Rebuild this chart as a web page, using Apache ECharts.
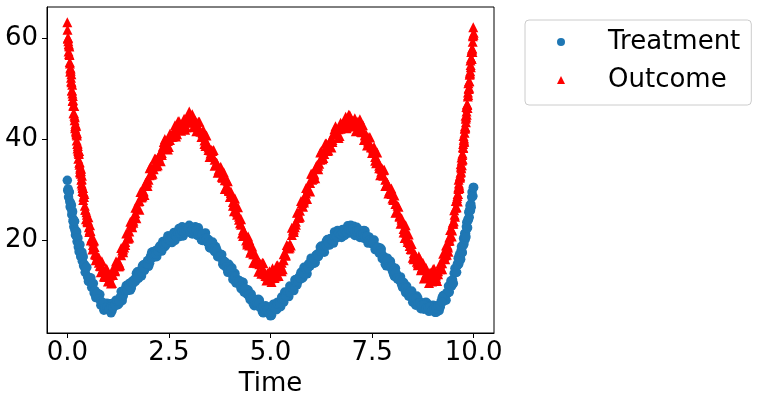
<!DOCTYPE html>
<html>
<head>
<meta charset="utf-8">
<script src="https://cdn.jsdelivr.net/npm/echarts@6.0.0/dist/echarts.min.js"></script>
<style>
html,body{margin:0;padding:0;background:#fff;}
#chart{width:758px;height:403px;}
</style>
</head>
<body>
<div id="chart"></div>
<script>
// ---- data ----
const seriesNames = ['Treatment', 'Outcome'];
const xTickValues = [0, 2.5, 5, 7.5, 10];
const yTickValues = [20, 40, 60];

// samples, first pass
const time = [
  0, 0.01, 0.02, 0.03, 0.04, 0.05, 0.06, 0.07, 0.08, 0.09, 0.1, 0.11, 0.12, 0.13, 0.14, 0.15, 0.16, 0.17, 0.18, 0.19,
  0.2, 0.21, 0.22, 0.23, 0.24, 0.25, 0.26, 0.27, 0.28, 0.29, 0.3, 0.31, 0.32, 0.33, 0.34, 0.35, 0.36, 0.37, 0.38, 0.39, 0.4,
  0.42, 0.44, 0.46, 0.48, 0.5, 0.52, 0.54, 0.56, 0.58, 0.6, 0.62, 0.64, 0.66, 0.68, 0.7,
  0.75, 0.8, 0.85, 0.9, 0.95,
  1, 1.05, 1.1, 1.15, 1.2, 1.25, 1.3, 1.35, 1.4, 1.45, 1.5, 1.55, 1.6, 1.65, 1.7, 1.75, 1.8, 1.85, 1.9, 1.95,
  2, 2.05, 2.1, 2.15, 2.2, 2.25, 2.3, 2.35, 2.4, 2.45, 2.5, 2.55, 2.6, 2.65, 2.7, 2.75, 2.8, 2.85, 2.9, 2.95,
  3, 3.05, 3.1, 3.15, 3.2, 3.25, 3.3, 3.35, 3.4, 3.45, 3.5, 3.55, 3.6, 3.65, 3.7, 3.75, 3.8, 3.85, 3.9, 3.95,
  4, 4.05, 4.1, 4.15, 4.2, 4.25, 4.3, 4.35, 4.4, 4.45, 4.5, 4.55, 4.6, 4.65, 4.7, 4.75, 4.8, 4.85, 4.9, 4.95,
  5, 5.05, 5.1, 5.15, 5.2, 5.25, 5.3, 5.35, 5.4, 5.45, 5.5, 5.55, 5.6, 5.65, 5.7, 5.75, 5.8, 5.85, 5.9, 5.95,
  6, 6.05, 6.1, 6.15, 6.2, 6.25, 6.3, 6.35, 6.4, 6.45, 6.5, 6.55, 6.6, 6.65, 6.7, 6.75, 6.8, 6.85, 6.9, 6.95,
  7, 7.05, 7.1, 7.15, 7.2, 7.25, 7.3, 7.35, 7.4, 7.45, 7.5, 7.55, 7.6, 7.65, 7.7, 7.75, 7.8, 7.85, 7.9, 7.95,
  8, 8.05, 8.1, 8.15, 8.2, 8.25, 8.3, 8.35, 8.4, 8.45, 8.5, 8.55, 8.6, 8.65, 8.7, 8.75, 8.8, 8.85, 8.9, 8.95,
  9, 9.05, 9.1, 9.15, 9.2, 9.25,
  9.3, 9.32, 9.34, 9.36, 9.38, 9.4, 9.42, 9.44, 9.46, 9.48, 9.5, 9.52, 9.54, 9.56, 9.58,
  9.6, 9.61, 9.62, 9.63, 9.64, 9.65, 9.66, 9.67, 9.68, 9.69, 9.7, 9.71, 9.72, 9.73, 9.74, 9.75, 9.76, 9.77, 9.78, 9.79,
  9.8, 9.81, 9.82, 9.83, 9.84, 9.85, 9.86, 9.87, 9.88, 9.89, 9.9, 9.91, 9.92, 9.93, 9.94, 9.95, 9.96, 9.97, 9.98, 9.99, 10
];

const treatment = [
  31.8, 29.8, 30.1, 28.5, 29.5, 29.5, 27.6, 26.6, 27.3, 26.3, 26.9, 25.0, 25.6, 25.6, 23.7, 24.1, 22.6, 23.7, 23.7, 21.9,
  21.0, 21.8, 20.9, 21.6, 19.7, 20.3, 20.4, 18.6, 19.1, 17.7, 18.9, 19.1, 17.4, 16.7, 17.6, 16.8, 17.6, 15.8, 16.6, 16.7, 14.9,
  15.2, 13.6, 14.6, 14.6, 12.7, 11.8, 12.6, 11.8, 12.5, 10.6, 11.3, 11.4, 9.5, 10.0, 8.6,
  9.4, 9.2, 7.2, 6.1, 7.0,
  6.3, 7.4, 6.0, 7.3, 8.1, 7.2, 8.6, 8.0, 10.0, 11.0, 10.1, 10.1, 11.8, 11.8, 13.4, 12.4, 14.0, 14.9, 14.0, 15.3,
  14.8, 16.8, 17.7, 16.8, 16.7, 18.3, 18.2, 19.7, 18.7, 20.1, 20.8, 19.6, 20.7, 19.9, 21.6, 22.3, 21.1, 20.8, 22.1, 21.7,
  22.9, 21.4, 22.3, 22.6, 20.9, 21.4, 20.0, 21.2, 21.4, 19.5, 18.5, 19.1, 18.1, 18.7, 16.7, 17.2, 17.1, 15.0, 15.3, 13.6,
  14.5, 14.5, 12.5, 11.5, 12.1, 11.1, 11.7, 9.7, 10.2, 10.1, 8.2, 8.5, 7.0, 8.2, 8.3, 6.6, 5.8, 6.7, 5.9, 6.7,
  5.0, 6.4, 7.3, 6.2, 7.5, 6.8, 8.8, 9.7, 8.8, 8.8, 10.5, 10.5, 12.1, 11.1, 12.6, 13.6, 12.6, 13.9, 13.3, 15.4,
  16.4, 15.5, 15.5, 17.2, 17.2, 18.8, 17.8, 19.2, 20.1, 19.0, 20.1, 19.4, 21.2, 21.9, 20.8, 20.5, 21.9, 21.5, 22.8, 21.4,
  22.4, 22.7, 21.1, 21.8, 20.5, 21.7, 21.9, 20.2, 19.4, 20.2, 19.3, 20.0, 18.1, 18.5, 18.4, 16.3, 16.6, 14.9, 15.9, 15.8,
  13.9, 12.8, 13.3, 12.2, 12.7, 10.6, 11.1, 10.9, 8.9, 9.3, 7.7, 8.8, 8.9, 7.2, 6.4, 7.4, 6.6, 7.5, 5.9, 6.8,
  7.1, 5.7, 6.7, 6.0, 7.9, 9.0,
  8.3, 8.1, 9.6, 9.5, 10.9, 9.7, 11.1, 11.9, 10.9, 12.1, 11.4, 13.4, 14.4, 13.6, 13.6,
  15.3, 15.1, 16.4, 15.2, 16.5, 17.1, 15.9, 17.0, 16.2, 17.9, 18.7, 17.6, 17.5, 19.0, 18.9, 20.3, 19.2, 20.5, 21.3, 20.1,
  21.3, 20.6, 22.6, 23.5, 22.5, 22.4, 24.1, 24.0, 25.5, 24.5, 25.9, 26.8, 25.8, 27.1, 26.5, 28.5, 29.5, 28.6, 28.7, 30.4, 30.4
];

const outcome = [
  63.1, 59.8, 60.0, 57.3, 58.5, 58.3, 55.2, 53.3, 53.9, 52.1, 52.8, 49.6, 50.7, 47.5, 47.7, 45.1, 46.5, 46.5, 43.7, 42.1,
  43.0, 41.6, 42.6, 39.7, 41.1, 38.1, 38.6, 36.1, 37.6, 37.6, 34.9, 33.4, 34.4, 33.1, 34.1, 31.2, 32.7, 29.7, 30.3, 27.9, 29.5,
  29.1, 26.0, 24.1, 25.0, 23.5, 24.5, 21.6, 22.9, 19.9, 20.4, 18.1, 19.7, 19.9, 17.3, 16.0,
  16.6, 14.9, 15.8, 12.8, 14.4,
  11.8, 13.0, 11.5, 14.3, 15.8, 14.8, 15.0, 17.9, 18.5, 21.3, 20.3, 23.6, 22.5, 24.8, 24.3, 27.6, 29.5, 28.6, 28.9, 31.6,
  31.9, 34.5, 33.1, 36.1, 34.6, 36.5, 35.6, 38.5, 40.0, 38.6, 38.4, 40.7, 40.5, 42.7, 40.9, 43.5, 41.6, 43.1, 41.8, 44.3,
  45.4, 43.3, 42.3, 43.6, 42.5, 43.4, 40.4, 41.7, 38.6, 39.0, 36.4, 37.8, 37.8, 34.9, 33.3, 34.1, 32.5, 33.4, 30.4, 31.6,
  28.5, 28.6, 25.7, 26.8, 26.5, 23.3, 21.3, 21.8, 19.9, 20.7, 17.5, 18.7, 15.5, 16.1, 13.7, 15.3, 15.5, 13.2, 12.0, 13.4,
  12.4, 14.4, 12.5, 14.9, 12.9, 15.0, 14.2, 17.3, 19.0, 18.3, 18.9, 21.9, 22.5, 25.4, 24.4, 27.7, 26.6, 28.8, 28.1, 31.3,
  33.1, 32.1, 32.2, 34.9, 35.1, 37.6, 36.2, 39.1, 37.6, 39.4, 38.3, 41.1, 42.5, 41.0, 40.6, 42.8, 42.5, 44.4, 42.4, 44.7,
  42.5, 43.5, 41.5, 43.4, 43.9, 41.3, 39.8, 40.9, 39.5, 40.3, 37.2, 38.4, 35.2, 35.5, 32.8, 34.1, 33.9, 30.9, 29.2, 29.9,
  28.2, 28.8, 25.5, 26.6, 23.2, 23.3, 20.4, 21.5, 21.1, 18.2, 16.5, 17.3, 15.7, 16.8, 14.0, 15.5, 12.6, 13.5, 11.5, 13.5,
  14.2, 12.4, 11.9, 14.4, 14.5, 17.3,
  16.2, 18.9, 17.1, 18.9, 17.7, 20.5, 22.0, 20.8, 20.7, 23.2, 23.2, 25.9, 24.6, 27.7, 26.5,
  28.7, 27.6, 30.4, 31.9, 30.5, 30.3, 32.7, 32.7, 35.0, 33.5, 36.3, 34.8, 36.8, 36.0, 39.0, 40.6, 39.4, 39.5, 42.0, 42.1,
  44.6, 43.3, 46.3, 44.8, 46.9, 46.1, 49.2, 51.0, 49.9, 50.1, 52.7, 52.9, 55.5, 54.2, 57.2, 55.8, 57.9, 57.2, 60.3, 62.1, 61.0
];

// samples, second and third pass (between the first-pass times)
const timeMid = [
  0.725, 0.775, 0.825, 0.875, 0.925, 0.975,
  1.025, 1.075, 1.125, 1.175, 1.225, 1.275, 1.325, 1.375, 1.425, 1.475, 1.525, 1.575, 1.625, 1.675, 1.725, 1.775, 1.825, 1.875, 1.925, 1.975,
  2.025, 2.075, 2.125, 2.175, 2.225, 2.275, 2.325, 2.375, 2.425, 2.475, 2.525, 2.575, 2.625, 2.675, 2.725, 2.775, 2.825, 2.875, 2.925, 2.975,
  3.025, 3.075, 3.125, 3.175, 3.225, 3.275, 3.325, 3.375, 3.425, 3.475, 3.525, 3.575, 3.625, 3.675, 3.725, 3.775, 3.825, 3.875, 3.925, 3.975,
  4.025, 4.075, 4.125, 4.175, 4.225, 4.275, 4.325, 4.375, 4.425, 4.475, 4.525, 4.575, 4.625, 4.675, 4.725, 4.775, 4.825, 4.875, 4.925, 4.975,
  5.025, 5.075, 5.125, 5.175, 5.225, 5.275, 5.325, 5.375, 5.425, 5.475, 5.525, 5.575, 5.625, 5.675, 5.725, 5.775, 5.825, 5.875, 5.925, 5.975,
  6.025, 6.075, 6.125, 6.175, 6.225, 6.275, 6.325, 6.375, 6.425, 6.475, 6.525, 6.575, 6.625, 6.675, 6.725, 6.775, 6.825, 6.875, 6.925, 6.975,
  7.025, 7.075, 7.125, 7.175, 7.225, 7.275, 7.325, 7.375, 7.425, 7.475, 7.525, 7.575, 7.625, 7.675, 7.725, 7.775, 7.825, 7.875, 7.925, 7.975,
  8.025, 8.075, 8.125, 8.175, 8.225, 8.275, 8.325, 8.375, 8.425, 8.475, 8.525, 8.575, 8.625, 8.675, 8.725, 8.775, 8.825, 8.875, 8.925, 8.975,
  9.025, 9.075, 9.125, 9.175, 9.225
];

const treatmentMid = [
  9.0, 9.2, 7.1, 7.5, 6.4, 7.5,
  6.5, 5.6, 7.5, 7.0, 8.0, 7.5, 9.8, 8.9, 10.3, 10.0, 11.4, 10.5, 12.0, 11.8, 13.7, 13.3, 12.9, 15.1, 14.9, 15.9,
  15.4, 17.5, 16.6, 17.9, 17.5, 18.8, 17.8, 19.3, 19.0, 20.8, 20.2, 19.5, 21.5, 20.9, 21.6, 20.7, 22.6, 21.4, 22.4, 21.7,
  22.6, 21.2, 22.1, 21.2, 22.4, 21.2, 19.9, 21.3, 20.1, 20.1, 18.4, 19.6, 17.7, 18.1, 16.8, 17.2, 15.2, 15.7, 14.4, 15.2,
  13.8, 12.2, 13.4, 12.0, 12.0, 10.4, 11.6, 9.7, 10.1, 8.8, 9.3, 7.4, 8.1, 7.0, 8.1, 6.9, 5.6, 7.0, 5.9, 6.1,
  5.1, 7.3, 6.3, 7.7, 7.3, 8.7, 7.7, 9.2, 9.0, 10.9, 10.5, 10.0, 12.2, 11.9, 12.9, 12.4, 14.6, 13.7, 15.1, 14.9,
  16.3, 15.4, 16.9, 16.7, 18.6, 18.2, 17.6, 19.8, 19.4, 20.3, 19.5, 21.6, 20.4, 21.6, 21.0, 22.1, 20.9, 22.0, 21.5, 22.9,
  22.0, 20.9, 22.5, 21.5, 21.8, 20.4, 21.8, 20.1, 20.6, 19.4, 19.9, 18.1, 18.6, 17.4, 18.2, 16.8, 15.2, 16.4, 15.0, 15.0,
  13.3, 14.4, 12.3, 12.6, 11.2, 11.6, 9.6, 10.1, 8.9, 9.9, 8.5, 7.1, 8.5, 7.4, 7.6, 6.3, 7.7, 6.2, 7.0, 6.1,
  7.0, 5.7, 7.0, 6.7, 8.6
];

const treatmentCore = [
  9.5, 8.4, 7.9, 7.6, 6.6, 6.7,
  6.4, 6.8, 6.6, 7.1, 7.9, 7.9, 8.9, 9.2, 10.0, 10.1, 10.8, 11.6, 11.5, 12.4, 12.7, 13.5, 13.7, 14.4, 15.3, 15.2,
  16.2, 16.4, 17.2, 17.2, 17.8, 18.5, 18.3, 19.2, 19.4, 20.1, 20.0, 20.5, 21.1, 20.7, 21.3, 21.3, 21.8, 21.6, 21.9, 22.3,
  21.7, 22.1, 21.8, 21.9, 21.3, 21.2, 21.2, 20.3, 20.3, 19.6, 19.3, 18.4, 18.1, 17.9, 16.8, 16.7, 15.9, 15.7, 14.7, 14.3,
  14.1, 12.9, 12.8, 12.0, 11.8, 10.9, 10.6, 10.4, 9.3, 9.2, 8.6, 8.4, 7.7, 7.5, 7.5, 6.6, 6.7, 6.2, 6.2, 5.5,
  5.8, 6.6, 6.4, 7.3, 7.5, 8.3, 8.3, 9.0, 9.8, 9.7, 10.6, 10.9, 11.7, 11.8, 12.5, 13.4, 13.3, 14.2, 14.5, 15.4,
  15.5, 16.2, 17.0, 16.9, 17.8, 18.1, 18.8, 18.9, 19.5, 20.2, 19.9, 20.7, 20.7, 21.3, 21.1, 21.5, 22.0, 21.5, 22.1, 21.9,
  22.2, 21.7, 21.8, 21.9, 21.1, 21.2, 20.7, 20.7, 19.9, 19.7, 19.6, 18.6, 18.5, 17.8, 17.5, 16.6, 16.2, 16.0, 14.8, 14.7,
  13.9, 13.6, 12.5, 12.1, 11.8, 10.7, 10.5, 9.8, 9.6, 8.8, 8.5, 8.4, 7.5, 7.6, 7.1, 7.2, 6.5, 6.6, 6.8, 6.1,
  6.5, 6.4, 7.0, 7.0, 7.7
];

const outcomeMid = [
  16.4, 16.6, 13.6, 14.3, 12.7, 14.2,
  12.8, 11.4, 14.3, 13.8, 15.4, 14.8, 18.4, 17.6, 19.0, 21.4, 20.5, 23.2, 23.4, 26.4, 26.4, 26.0, 29.6, 29.5, 31.3, 30.7,
  34.2, 32.9, 34.0, 36.1, 34.8, 37.0, 36.8, 39.4, 38.8, 37.9, 41.0, 40.4, 41.7, 40.5, 43.5, 41.8, 42.4, 44.0, 42.3, 44.1,
  43.2, 44.9, 43.4, 41.5, 43.4, 41.4, 41.4, 39.0, 40.7, 37.8, 37.1, 37.6, 34.7, 35.3, 33.5, 34.5, 32.4, 30.1, 31.8, 29.7,
  29.6, 26.8, 28.2, 25.0, 24.0, 24.1, 20.8, 21.1, 19.1, 20.0, 17.9, 15.5, 17.2, 15.4, 15.5, 13.3, 15.4, 12.9, 12.8, 13.8,
  11.7, 13.5, 12.8, 15.0, 14.4, 13.8, 17.2, 16.9, 18.8, 18.5, 22.4, 21.6, 23.0, 25.5, 24.6, 27.3, 27.4, 30.3, 30.1, 29.6,
  33.1, 32.9, 34.6, 34.0, 37.3, 36.0, 37.0, 39.1, 37.7, 39.8, 39.4, 41.9, 41.3, 40.2, 43.2, 42.4, 43.5, 42.1, 44.8, 42.9,
  43.0, 44.1, 41.7, 42.9, 41.4, 42.7, 40.8, 38.7, 40.4, 38.3, 38.2, 35.7, 37.3, 34.2, 33.5, 33.8, 30.7, 31.3, 29.3, 30.2,
  28.0, 25.4, 26.8, 24.6, 24.3, 21.5, 22.9, 19.6, 18.8, 19.2, 16.2, 16.8, 15.0, 16.3, 14.5, 12.4, 14.5, 13.0, 13.5, 11.8,
  14.3, 12.5, 13.2, 15.3, 14.2
];

const outcomeCore = [
  17.0, 15.5, 14.8, 14.3, 13.1, 13.1,
  12.7, 13.1, 13.1, 14.0, 15.1, 15.5, 17.0, 18.1, 19.6, 20.3, 21.7, 23.2, 23.8, 25.3, 26.3, 27.7, 28.4, 29.7, 31.0, 31.4,
  32.8, 33.4, 34.6, 35.0, 36.0, 37.0, 37.2, 38.3, 38.7, 39.6, 39.8, 40.6, 41.4, 41.2, 42.1, 42.3, 43.0, 42.9, 43.5, 44.1,
  43.6, 43.8, 43.3, 43.2, 42.2, 41.6, 41.1, 39.7, 39.3, 38.3, 37.7, 36.5, 35.9, 35.3, 33.9, 33.4, 32.3, 31.8, 30.6, 29.9,
  29.3, 27.5, 26.8, 25.5, 24.6, 23.0, 22.0, 21.1, 19.5, 18.9, 17.8, 17.2, 16.0, 15.6, 15.2, 14.0, 14.0, 13.4, 13.4, 12.7,
  12.9, 13.5, 13.2, 13.9, 14.3, 15.5, 16.0, 17.1, 18.5, 19.2, 21.0, 22.1, 23.6, 24.4, 25.8, 27.3, 27.8, 29.2, 30.0, 31.3,
  31.9, 33.1, 34.3, 34.7, 35.9, 36.5, 37.6, 38.0, 38.9, 39.8, 39.8, 40.8, 41.2, 41.9, 42.0, 42.6, 43.2, 42.8, 43.4, 43.4,
  43.6, 43.0, 42.9, 42.9, 41.8, 41.6, 40.7, 40.4, 39.2, 38.5, 37.9, 36.4, 35.9, 34.7, 34.1, 32.7, 31.9, 31.3, 29.7, 29.1,
  27.9, 27.1, 25.6, 24.8, 24.0, 22.2, 21.5, 20.1, 19.4, 18.1, 17.4, 16.8, 15.4, 15.2, 14.4, 14.1, 13.3, 13.2, 13.2, 12.5,
  12.9, 13.0, 13.8, 14.2, 15.4
];

// extra outcome samples on the steep ends
const timeEdge = [
  0.005, 0.015, 0.025, 0.035, 0.045, 0.055, 0.065, 0.075, 0.085, 0.095, 0.105, 0.115, 0.125, 0.135, 0.145, 0.155, 0.165, 0.175, 0.185, 0.195,
  0.205, 0.215, 0.225, 0.235, 0.245, 0.255, 0.265, 0.275, 0.285, 0.295, 0.305, 0.315, 0.325, 0.335, 0.345, 0.355, 0.365, 0.375, 0.385, 0.395,
  0.41, 0.43, 0.45, 0.47, 0.49, 0.51, 0.53, 0.55, 0.57, 0.59, 0.61, 0.63, 0.65, 0.67, 0.69,
  9.275, 9.31, 9.33, 9.35, 9.37, 9.39, 9.41, 9.43, 9.45, 9.47, 9.49, 9.51, 9.53, 9.55, 9.57, 9.59,
  9.605, 9.615, 9.625, 9.635, 9.645, 9.655, 9.665, 9.675, 9.685, 9.695, 9.705, 9.715, 9.725, 9.735, 9.745, 9.755, 9.765, 9.775, 9.785, 9.795,
  9.805, 9.815, 9.825, 9.835, 9.845, 9.855, 9.865, 9.875, 9.885, 9.895, 9.905, 9.915, 9.925, 9.935, 9.945, 9.955, 9.965, 9.975, 9.985, 9.995
];

const outcomeEdge = [
  61.6, 60.0, 59.3, 58.8, 56.8, 56.6, 54.9, 54.1, 53.5, 51.4, 51.2, 49.6, 49.0, 48.5, 46.6, 46.5, 45.1, 44.6, 44.3, 42.5,
  42.6, 41.3, 40.9, 40.7, 39.0, 39.1, 37.7, 37.3, 37.0, 35.3, 35.4, 34.1, 33.7, 33.6, 31.9, 32.0, 30.8, 30.4, 30.3, 28.6,
  28.5, 26.8, 26.0, 25.5, 23.7, 23.8, 22.5, 22.0, 21.8, 20.1, 20.2, 19.0, 18.7, 18.6, 17.1,
  16.8, 17.0, 17.9, 18.9, 18.5, 19.8, 19.9, 20.9, 22.2, 21.9, 23.5, 23.7, 25.0, 26.4, 26.5, 28.3,
  29.1, 29.1, 30.1, 31.2, 30.8, 32.3, 32.4, 33.3, 34.5, 34.2, 35.7, 35.9, 37.1, 38.4, 38.2, 39.8, 40.1, 41.2, 42.5, 42.3,
  44.0, 44.3, 45.4, 46.8, 46.7, 48.4, 48.7, 50.0, 51.4, 51.4, 53.1, 53.4, 54.6, 56.0, 55.9, 57.6, 57.9, 59.2, 60.6, 60.6
];

function check(a, b, label) { if (a.length !== b.length) console.error('length mismatch', label, a.length, b.length); }
check(time, treatment, 'treatment'); check(time, outcome, 'outcome');
check(timeMid, treatmentMid, 'treatmentMid'); check(timeMid, outcomeMid, 'outcomeMid');
check(timeMid, treatmentCore, 'treatmentCore'); check(timeMid, outcomeCore, 'outcomeCore');
check(timeEdge, outcomeEdge, 'outcomeEdge');

function pairs(ts, vs) { return ts.map((t, i) => [t, vs[i]]); }

const FONT = 'DejaVu Sans';
const FS = 26;
const chart = echarts.init(document.getElementById('chart'), null, {renderer: 'canvas'});

const axisCommon = {
  type: 'value',
  splitLine: {show: false},
  axisLine: {show: true, onZero: false, lineStyle: {color: '#000', width: 1}},
};

chart.setOption({
  animation: false,
  backgroundColor: '#fff',
  grid: {left: 47, top: 7, width: 447, height: 326, show: true, borderColor: '#000', borderWidth: 1, backgroundColor: 'transparent', containLabel: false},
  xAxis: Object.assign({}, axisCommon, {
    min: -0.5, max: 10.5,
    name: 'Time', nameLocation: 'middle', nameGap: 34,
    nameTextStyle: {fontSize: FS, color: '#000', fontFamily: FONT},
    axisTick: {show: true, length: 5, customValues: xTickValues, lineStyle: {color: '#000'}},
    axisLabel: {customValues: xTickValues, formatter: v => Number(v).toFixed(1), fontSize: FS, color: '#000', fontFamily: FONT, margin: 7}
  }),
  yAxis: Object.assign({}, axisCommon, {
    min: 1.6, max: 66.1,
    axisTick: {show: true, length: 5, customValues: yTickValues, lineStyle: {color: '#000'}},
    axisLabel: {customValues: yTickValues, formatter: v => String(Math.round(v)), fontSize: FS, color: '#000', fontFamily: FONT, margin: 9}
  }),
  legend: {
    orient: 'vertical', left: 525, top: 20,
    padding: [8, 11, 11, 32],
    itemWidth: 8, itemHeight: 8, itemGap: 10,
    borderColor: '#cccccc', borderWidth: 1, borderRadius: 4, backgroundColor: '#fff',
    textStyle: {fontSize: FS, color: '#000', fontFamily: FONT, padding: [0, 0, 0, 38], lineHeight: 28},
    data: [{name: seriesNames[0], icon: 'circle'}, {name: seriesNames[1], icon: 'triangle'}]
  },
  series: [
    {
      name: seriesNames[0], type: 'scatter', symbol: 'circle', symbolSize: 9.5,
      itemStyle: {color: '#1f77b4', opacity: 1},
      data: pairs(time, treatment).concat(pairs(timeMid, treatmentMid), pairs(timeMid, treatmentCore)), z: 2
    },
    {
      name: seriesNames[1], type: 'scatter', symbol: 'triangle', symbolSize: 10,
      itemStyle: {color: '#ff0000', opacity: 1},
      data: pairs(time, outcome).concat(pairs(timeMid, outcomeMid), pairs(timeMid, outcomeCore), pairs(timeEdge, outcomeEdge)), z: 3
    }
  ]
});
</script>
</body>
</html>
